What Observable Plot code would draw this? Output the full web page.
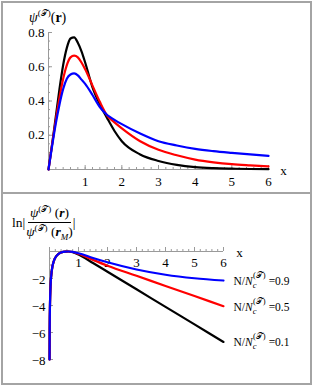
<!DOCTYPE html>
<html><head><meta charset="utf-8">
<script src="https://cdn.jsdelivr.net/npm/d3@7"></script>
<script src="https://cdn.jsdelivr.net/npm/@observablehq/plot@0.6"></script>
<style>
body{margin:0;background:#fff;}
#fig{position:relative;width:315px;height:386px;overflow:hidden;font-family:"Liberation Serif",serif;color:#000;background:#fff;}
#fig svg, #fig svg text{font-family:"Liberation Serif",serif !important;}
.plot{position:absolute;left:0;}
.bd{position:absolute;background:#a4a4a4;}
sup,sub{font-size:9px;line-height:0;}
.ttl{position:absolute;white-space:nowrap;color:#000;}
</style></head><body>
<div id="fig">
  <div class="ttl" style="left:29px;top:10px;font-size:14px;"><i>ψ</i><sup>(𝒯)</sup>(<b>r</b>)</div>
  <div class="ttl" style="left:12px;top:204px;font-size:13.5px;display:flex;align-items:center;">
    <span>ln|</span>
    <span style="display:inline-flex;flex-direction:column;align-items:center;line-height:18px;margin-left:1px;">
      <span style="border-bottom:1px solid #000;padding:0 2px;"><i>ψ</i><sup>(𝒯)</sup>&nbsp;(<b><i>r</i></b>)</span>
      <span><i>ψ</i><sup>(𝒯)</sup>&nbsp;(<b><i>r</i></b><sub><i>M</i></sub>)</span>
    </span>
    <span style="color:#000;">|</span>
  </div>
</div>
<script>
// ---------- data ----------
const seriesNames = ["0.1", "0.5", "0.9"];          // N/Nc values
const seriesColors = ["#000000", "#ff0000", "#0000ff"];

// top panel: psi(r)
const xTop = [0, 0.1, 0.2, 0.3, 0.4, 0.5, 0.6, 0.7, 0.8, 0.9, 1.0, 1.2, 1.4, 1.6, 1.8, 2.0, 2.5, 3, 3.5, 4, 4.5, 5, 5.5, 6];
const psiBlack = [0, 0.15, 0.31, 0.47, 0.61, 0.71, 0.765, 0.772, 0.74, 0.69, 0.625, 0.48, 0.38, 0.30, 0.225, 0.165, 0.088, 0.05, 0.027, 0.014, 0.008, 0.005, 0.003, 0.002];
const psiRed   = [0, 0.15, 0.29, 0.42, 0.53, 0.61, 0.655, 0.665, 0.655, 0.625, 0.585, 0.49, 0.395, 0.315, 0.275, 0.24, 0.165, 0.115, 0.083, 0.058, 0.042, 0.031, 0.024, 0.018];
const psiBlue  = [0, 0.14, 0.27, 0.38, 0.47, 0.53, 0.555, 0.561, 0.55, 0.525, 0.50, 0.435, 0.365, 0.318, 0.29, 0.265, 0.21, 0.165, 0.14, 0.12, 0.107, 0.097, 0.088, 0.08];

// bottom panel: ln|psi(r)/psi(rM)|
const xBot = [0.002, 0.006, 0.015, 0.04, 0.08, 0.15, 0.25, 0.4, 0.55, 0.65, 0.8, 1, 1.5, 2, 3, 4, 5, 6];
const lnBlack = [-8, -6, -4.2, -2.4, -1.4, -0.7, -0.3, -0.07, -0.005, 0, -0.05, -0.22, -0.85, -1.5, -2.8, -4.1, -5.4, -6.7];
const lnRed   = [-8, -6, -4.2, -2.4, -1.4, -0.7, -0.3, -0.07, -0.005, 0, -0.04, -0.17, -0.62, -1.05, -1.8, -2.55, -3.3, -4.05];
const lnBlue  = [-8, -6, -4.2, -2.4, -1.4, -0.7, -0.3, -0.07, -0.005, 0, -0.03, -0.13, -0.48, -0.8, -1.33, -1.72, -1.98, -2.15];

// tick labels
const xTickLabels = [1, 2, 3, 4, 5, 6];
const yTopTickLabels = [0.2, 0.4, 0.6, 0.8];
const yBotTickLabels = [-2, -4, -6, -8];

// ---------- build ----------
const psiSeries = [psiBlack, psiRed, psiBlue];
const lnSeries = [lnBlack, lnRed, lnBlue];
const topRows = [], botRows = [];
seriesNames.forEach((s, k) => {
  xTop.forEach((x, i) => topRows.push({x, v: psiSeries[k][i], s}));
  xBot.forEach((x, i) => botRows.push({x, v: lnSeries[k][i], s}));
});
const colorScale = {domain: seriesNames, range: seriesColors};
const axisGray = "#9a9a9a";
const font = {fontFamily: "Liberation Serif, serif", fontSize: "13px", background: "transparent", overflow: "visible"};

// ---- top plot ----
const T = {w: 315, h: 193, ml: 48, mr: 47, mt: 32, mb: 24};
const tX = 6 / (T.w - T.ml - T.mr), tY = 0.8 / (T.h - T.mt - T.mb); // data units per px
const xMinor = d3.range(0, 6.001, 0.2), xMajor = d3.range(0, 6.001, 1);
const topYMinor = d3.range(0, 0.801, 0.05), topYMajor = d3.range(0, 0.801, 0.2);

const topPlot = Plot.plot({
  width: T.w, height: T.h, marginLeft: T.ml, marginRight: T.mr, marginTop: T.mt, marginBottom: T.mb,
  x: {domain: [0, 6], axis: null}, y: {domain: [0, 0.8], axis: null}, color: colorScale,
  style: font,
  marks: [
    Plot.ruleY([0], {stroke: axisGray}),
    Plot.ruleX([0], {stroke: axisGray}),
    Plot.ruleX(xMinor, {x: d => d, y1: 0, y2: 2 * tY, stroke: axisGray}),
    Plot.ruleX(xMajor, {x: d => d, y1: 0, y2: 4 * tY, stroke: axisGray}),
    Plot.ruleY(topYMinor, {y: d => d, x1: 0, x2: 2 * tX, stroke: axisGray}),
    Plot.ruleY(topYMajor, {y: d => d, x1: 0, x2: 4 * tX, stroke: axisGray}),
    Plot.text(xTickLabels, {x: d => d, y: 0, text: d => String(d), dy: 12, fill: "#000"}),
    Plot.text(yTopTickLabels, {x: 0, y: d => d, text: d => d.toFixed(1), textAnchor: "end", dx: -4, fill: "#000"}),
    Plot.text(["x"], {x: 6, y: 0, text: d => d, dx: 15, dy: 1, fill: "#000"}),
    Plot.line(topRows, {x: "x", y: "v", z: "s", stroke: "s", strokeWidth: 2.2, curve: "monotone-x"})
  ]
});
topPlot.classList.add("plot"); topPlot.style.top = "0px";
document.getElementById("fig").appendChild(topPlot);

// ---- bottom plot ----
const B = {w: 315, h: 193, ml: 49, mr: 92, mt: 58, mb: 27};
const bX = 6 / (B.w - B.ml - B.mr), bY = 8 / (B.h - B.mt - B.mb);
const botYMinor = d3.range(-8, 0.001, 0.5), botYMajor = d3.range(-8, 0.001, 2);
const botPlot = Plot.plot({
  width: B.w, height: B.h, marginLeft: B.ml, marginRight: B.mr, marginTop: B.mt, marginBottom: B.mb,
  x: {domain: [0, 6], axis: null}, y: {domain: [-8, 0], axis: null}, color: colorScale,
  style: font,
  marks: [
    Plot.ruleY([0], {stroke: axisGray}),
    Plot.ruleX([0], {stroke: axisGray}),
    Plot.ruleX(xMinor, {x: d => d, y1: 0, y2: 2 * bY, stroke: axisGray}),
    Plot.ruleX(xMajor, {x: d => d, y1: 0, y2: 4 * bY, stroke: axisGray}),
    Plot.ruleY(botYMinor, {y: d => d, x1: 0, x2: 2 * bX, stroke: axisGray}),
    Plot.ruleY(botYMajor, {y: d => d, x1: 0, x2: 4 * bX, stroke: axisGray}),
    Plot.text(xTickLabels, {x: d => d, y: 0, text: d => String(d), dy: 11, fill: "#000"}),
    Plot.text(yBotTickLabels, {x: 0, y: d => d, text: d => "\u2212" + Math.abs(d), textAnchor: "end", dx: -4, dy: 1, fill: "#000"}),
    Plot.text(["x"], {x: 6, y: 0, text: d => d, dx: 16, dy: 1, fill: "#000"}),
    Plot.line(botRows, {x: "x", y: "v", z: "s", stroke: "s", strokeWidth: 2.2, curve: "monotone-x"})
  ]
});
botPlot.classList.add("plot"); botPlot.style.top = "193px";
document.getElementById("fig").appendChild(botPlot);

// curve-end labels, positioned through the plot's scales
const sx = botPlot.scale("x"), sy = botPlot.scale("y");
const svgSel = d3.select(botPlot);
seriesNames.forEach((s, k) => {
  const yEnd = lnSeries[k][lnSeries[k].length - 1];
  const px = sx.apply(6) + 10.5, py = sy.apply(yEnd) + 5;
  const t = svgSel.append("text").attr("x", px).attr("y", py).attr("text-anchor", "start")
    .style("text-anchor", "start").attr("font-size", 11.5).attr("fill", "#000");
  t.append("tspan").text("N/");
  t.append("tspan").attr("font-style", "italic").text("N");
  t.append("tspan").attr("font-style", "italic").attr("font-size", 8.5).attr("dy", 3).text("c");
  t.append("tspan").attr("font-size", 8.5).attr("dx", -3.5).attr("dy", -10).text("(𝒯)");
  t.append("tspan").attr("dx", 3).attr("dy", 7).text("=" + s);
});

// frame borders
const fig = document.getElementById("fig");
[[2, 1, 310, 2], [2, 383, 310, 2], [1, 1, 2, 384], [310, 1, 2, 384], [2, 192, 310, 2]].forEach(([l, t, w, h]) => {
  const d = document.createElement("div"); d.className = "bd";
  Object.assign(d.style, {left: l + "px", top: t + "px", width: w + "px", height: h + "px"});
  fig.appendChild(d);
});
</script>
</body></html>
